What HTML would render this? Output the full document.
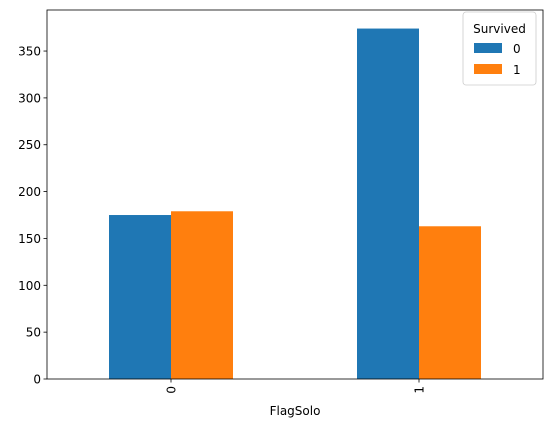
<!DOCTYPE html>
<html><head><meta charset="utf-8"><style>
html,body{margin:0;padding:0;background:#fff;}
svg text{font-family:"DejaVu Sans","Liberation Sans",sans-serif;}
</style></head><body>
<svg id="chart" width="552" height="427" xmlns="http://www.w3.org/2000/svg">
<rect width="552" height="427" fill="#fff"/>
<g id="plot"></g>
</svg>
<script>
const categories = ["0", "1"];
const survived0 = [175, 374];
const survived1 = [179, 163];
const yTicks = [0, 50, 100, 150, 200, 250, 300, 350];
const seriesNames = ["0", "1"];

const L = 47, R = 543, T = 10, B = 379;
const yMax = 393.8;
const y = v => B - v * (B - T) / yMax;
const groupW = (R - L) / categories.length;
const xc = i => L + groupW * (i + 0.5);
const barW = groupW * 0.25;
const ns = "http://www.w3.org/2000/svg";
const g = document.getElementById("plot");
function mk(tag, attrs, parent) {
  const e = document.createElementNS(ns, tag);
  for (const k in attrs) e.setAttribute(k, attrs[k]);
  (parent || g).appendChild(e);
  return e;
}
const colors = ["#1f77b4", "#ff7f0e"];
[survived0, survived1].forEach((s, si) => {
  s.forEach((v, i) => {
    const r = mk("rect", {x: xc(i) - barW + si * barW, y: y(v), width: barW, height: B - y(v), fill: colors[si]});
    
    
  });
});
const frame = mk("rect", {x: L, y: T, width: R - L, height: B - T, fill: "none", stroke: "#000", "stroke-width": 0.8});


yTicks.forEach(t => {
  const yy = y(t);
  mk("line", {x1: L - 3.5, x2: L, y1: yy, y2: yy, stroke: "#000", "stroke-width": 0.8});
  const tx = mk("text", {x: L - 6, y: yy + 4.5, "text-anchor": "end", "font-size": 12, fill: "#000"});
  tx.textContent = t;
  
  
});
categories.forEach((c, i) => {
  const xx = xc(i);
  mk("line", {x1: xx, x2: xx, y1: B, y2: B + 3.5, stroke: "#000", "stroke-width": 0.8});
  const tx = mk("text", {x: xx + 4.5, y: B + 7, "text-anchor": "end", "font-size": 12, fill: "#000", transform: `rotate(-90 ${xx + 4.5} ${B + 7})`});
  tx.textContent = c;
  
  
});
const xl = mk("text", {x: (L + R) / 2, y: 415, "text-anchor": "middle", "font-size": 12, fill: "#000"});
xl.textContent = "FlagSolo";


const lg = mk("g", {});


mk("rect", {x: 463, y: 12, width: 73, height: 73, rx: 3, fill: "#fff", "fill-opacity": 0.8, stroke: "#ccc", "stroke-width": 0.8}, lg);
const lt = mk("text", {x: 499.5, y: 33, "text-anchor": "middle", "font-size": 12, fill: "#000"}, lg);
lt.textContent = "Survived";


seriesNames.forEach((n, i) => {
  const yy = 43 + i * 21;
  const sw = mk("rect", {x: 474, y: yy, width: 28, height: 10, fill: colors[i]}, lg);
  
  
  const t = mk("text", {x: 513, y: yy + 10, "font-size": 12, fill: "#000"}, lg);
  t.textContent = n;
  
  
});
</script>
</body></html>
